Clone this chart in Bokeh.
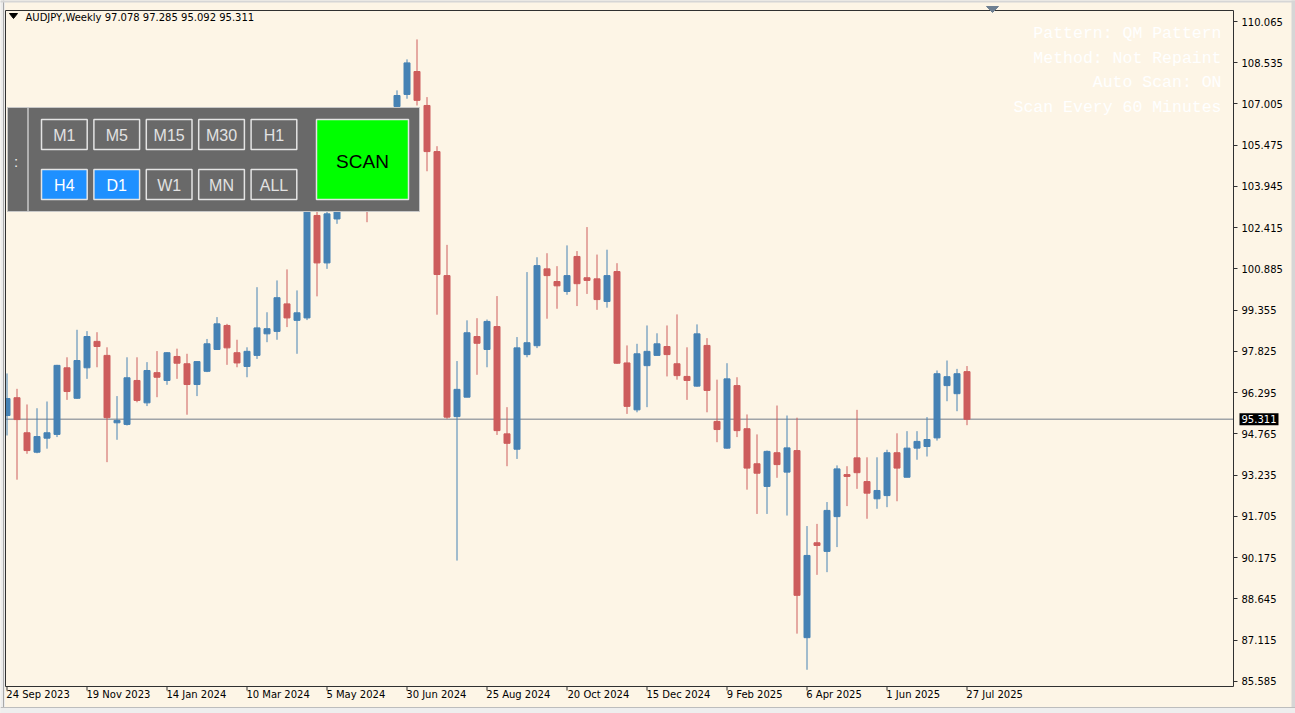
from bokeh.plotting import figure
from bokeh.models import (Range1d, FixedTicker, Label, NumeralTickFormatter,
                          CustomJSTickFormatter, ColumnDataSource)
from bokeh.embed import file_html
from bokeh.resources import INLINE

# ---------------- data ----------------
symbol = "AUDJPY,Weekly"
opens = [95.45, 96.11, 94.81, 94.09, 94.61, 94.75, 97.22, 96.09, 97.22, 98.20,
         97.68, 95.18, 95.12, 96.75, 95.92, 97.04, 96.75, 97.64, 97.37, 96.60,
         97.09, 97.90, 98.79, 97.78, 97.27, 97.68, 98.48, 98.57, 99.59, 98.98,
         99.07, 102.87, 101.11, 102.74, 103.85, 104.20, 103.80, 103.30, 104.60, 106.91,
         107.36, 108.21, 106.95, 105.24, 100.64, 95.41, 96.13, 98.38, 97.90, 98.75,
         94.77, 94.20, 97.71, 98.04, 100.89, 100.42, 100.05, 101.35, 100.56, 100.52,
         99.68, 100.79, 97.40, 95.66, 97.30, 97.68, 98.01, 97.37, 96.90, 96.54,
         98.05, 95.23, 94.24, 96.56, 94.96, 93.66, 92.82, 94.07, 93.35, 94.15,
         87.21, 90.73, 90.41, 91.70, 93.26, 93.88, 93.00, 92.36, 92.48, 94.07,
         93.16, 94.24, 94.30, 94.62, 96.56, 96.26, 97.078]
highs = [97.01, 96.44, 95.86, 95.72, 95.97, 97.33, 97.61, 98.63, 98.58, 98.54,
         97.98, 96.17, 97.61, 97.61, 97.43, 97.84, 97.80, 97.93, 97.74, 97.46,
         98.29, 99.10, 98.85, 98.26, 97.98, 100.21, 99.28, 100.46, 100.87, 100.09,
         103.25, 104.75, 103.10, 104.10, 104.50, 104.85, 104.40, 104.90, 106.80, 107.51,
         108.66, 109.40, 107.26, 105.44, 101.78, 97.47, 98.98, 99.06, 99.01, 99.88,
         95.76, 98.36, 100.77, 101.32, 101.47, 100.99, 101.76, 101.55, 102.44, 101.42,
         101.60, 101.10, 98.05, 98.11, 98.79, 98.50, 98.79, 99.20, 97.98, 98.83,
         98.32, 96.78, 97.39, 96.87, 95.49, 94.75, 94.15, 95.82, 95.45, 95.37,
         91.35, 91.43, 92.24, 93.60, 93.57, 95.66, 93.90, 93.90, 94.18, 94.79,
         94.87, 94.87, 95.39, 97.12, 97.49, 97.18, 97.285]
lows = [94.71, 93.07, 94.03, 94.05, 94.22, 94.65, 96.03, 96.07, 96.81, 97.24,
        93.72, 94.55, 95.08, 95.94, 95.80, 96.13, 96.59, 96.81, 95.48, 96.17,
        97.06, 97.89, 97.33, 97.24, 96.87, 97.55, 98.17, 98.26, 98.73, 97.74,
        98.99, 99.87, 100.89, 102.56, 103.30, 103.50, 102.62, 103.15, 104.30, 106.45,
        107.20, 106.95, 104.51, 99.19, 95.33, 90.07, 96.13, 96.96, 97.24, 94.73,
        93.57, 93.84, 97.61, 97.95, 99.04, 99.41, 99.93, 99.51, 99.96, 99.37,
        99.45, 97.37, 95.51, 95.57, 95.76, 97.68, 96.90, 96.78, 96.03, 96.52,
        95.57, 94.46, 94.22, 94.65, 92.70, 91.80, 91.80, 93.14, 91.74, 87.36,
        86.02, 89.54, 89.64, 90.57, 92.09, 92.73, 91.62, 91.99, 92.05, 92.27,
        93.16, 93.81, 93.93, 94.52, 95.98, 95.61, 95.092]
closes = [96.08, 95.30, 94.15, 94.67, 94.81, 97.31, 96.34, 97.49, 98.38, 98.01,
          95.37, 95.27, 96.85, 96.01, 97.12, 96.87, 97.78, 97.39, 96.60, 97.45,
          98.11, 98.85, 97.96, 97.40, 97.83, 98.70, 98.67, 99.82, 99.07, 99.26,
          103.00, 101.11, 102.93, 103.85, 104.20, 103.80, 103.30, 104.60, 106.70, 107.32,
          108.53, 107.14, 105.24, 100.68, 95.39, 96.42, 98.52, 98.13, 98.94, 94.89,
          94.42, 97.96, 98.15, 101.01, 100.64, 100.26, 100.64, 100.34, 100.46, 99.75,
          100.64, 97.39, 95.79, 97.74, 97.83, 98.11, 97.71, 96.93, 96.75, 98.48,
          96.38, 94.93, 96.81, 94.89, 93.50, 93.31, 94.12, 93.63, 94.25, 88.78,
          90.26, 90.63, 91.93, 93.47, 93.19, 93.33, 92.57, 92.67, 94.07, 93.50,
          94.24, 94.49, 94.56, 97.00, 96.89, 97.00, 95.311]
x_tick_labels = ["24 Sep 2023", "19 Nov 2023", "14 Jan 2024", "10 Mar 2024", "5 May 2024",
                 "30 Jun 2024", "25 Aug 2024", "20 Oct 2024", "15 Dec 2024", "9 Feb 2025",
                 "6 Apr 2025", "1 Jun 2025", "27 Jul 2025"]
bars_per_label = 8
y_ticks = [110.065, 108.535, 107.005, 105.475, 103.945, 102.415, 100.885, 99.355,
           97.825, 96.295, 94.765, 93.235, 91.705, 90.175, 88.645, 87.115, 85.585]
bid = 95.311
row1 = ["M1", "M5", "M15", "M30", "H1"]
row2 = ["H4", "D1", "W1", "MN", "ALL"]
active = ["H4", "D1"]
scan_label = "SCAN"
info_lines = ["Pattern: QM Pattern", "Method: Not Repaint", "Auto Scan: ON", "Scan Every 60 Minutes"]

# ---------------- styles ----------------
UP = "#4682B4"
DN = "#CD5C5C"
BG = "#FDF5E6"
FRAME = "#303030"
WIN = "#D6D6D6"
AXFONT = "DejaVu Sans"
AXSIZE = "10px"


# reference-pixel helpers (layout of decorations only)
def X(px):
    return (px - 6.5) / 10.0


def Y(py):
    return 110.065 - (py - 21) / 26.96


# approximate DejaVu Sans advance widths at 10px (for left-aligning date labels)
CW = {" ": 3.18, "M": 8.63, "J": 2.95, "N": 7.48, "D": 7.7, "S": 6.35, "O": 7.87,
      "A": 6.84, "F": 5.75, "r": 4.11, "l": 2.78, "c": 5.5, "v": 5.92, "y": 5.92}


def text_w(s):
    return sum(CW.get(ch, 6.3) for ch in s)


p = figure(width=1295, height=713, output_backend="svg", toolbar_location=None,
           x_range=Range1d(X(0), X(1295)), y_range=Range1d(Y(713), Y(0)),
           y_axis_location="right", min_border=0)
p.background_fill_color = BG
p.border_fill_color = BG
p.outline_line_color = None
p.grid.visible = False

# right price axis, pinned to the chart frame's right edge
p.yaxis.fixed_location = X(1233)
p.yaxis.ticker = FixedTicker(ticks=y_ticks)
p.yaxis.formatter = NumeralTickFormatter(format="0.000")
p.yaxis.major_tick_out = 4
p.yaxis.major_tick_in = 0
p.yaxis.minor_tick_line_color = None
p.yaxis.axis_line_color = None
p.yaxis.major_tick_line_color = FRAME
p.yaxis.major_label_standoff = 4
p.yaxis.major_label_text_font = AXFONT
p.yaxis.major_label_text_font_size = AXSIZE
p.yaxis.major_label_text_color = "black"

# time axis, pinned to the chart frame's bottom edge; labels start at their tick
n = len(opens)
idx = list(range(n))
x_ticks = [k * bars_per_label for k in range(len(x_tick_labels))]
label_ticks = [t - 0.05 + text_w(lab) / 20.0 for t, lab in zip(x_ticks, x_tick_labels)]
p.xaxis.fixed_location = Y(686)
p.xaxis.ticker = FixedTicker(ticks=label_ticks)
p.xaxis.formatter = CustomJSTickFormatter(args=dict(labels=x_tick_labels),
                                          code="return labels[index];")
p.xaxis.major_tick_line_color = None
p.xaxis.major_tick_out = 0
p.xaxis.major_tick_in = 0
p.xaxis.minor_tick_line_color = None
p.xaxis.axis_line_color = None
p.xaxis.major_label_standoff = 2
p.xaxis.major_label_text_font = AXFONT
p.xaxis.major_label_text_font_size = AXSIZE
p.xaxis.major_label_text_color = "black"
# tick marks at the label dates
p.segment(x0=x_ticks, y0=Y(686), x1=x_ticks, y1=Y(690), line_color=FRAME, line_width=1)

# bid line (under the candles)
p.segment(x0=X(5), y0=bid, x1=X(1233), y1=bid, line_color="#A0A4A8", line_width=1.5)

# candles
colors = [UP if c >= o else DN for o, c in zip(opens, closes)]
src = ColumnDataSource(dict(
    x=idx, o=opens, h=highs, l=lows, c=closes,
    top=[max(o, c) for o, c in zip(opens, closes)],
    bottom=[min(o, c) for o, c in zip(opens, closes)],
    color=colors))
p.segment(x0="x", y0="l", x1="x", y1="h", line_color="color", line_width=1, source=src)
p.vbar(x="x", width=0.6, top="top", bottom="bottom", fill_color="color",
       line_color="color", line_width=1, source=src)

# window edges (left / top / right / bottom) and chart frame
p.quad(left=X(-2), right=X(4.5), top=Y(-2), bottom=Y(715), fill_color="#ECECEC",
       line_color=None)
p.segment(x0=X(3), y0=Y(0), x1=X(3), y1=Y(713), line_color="#A8A8A8", line_width=1)
p.quad(left=X(-2), right=X(1297), top=Y(-2), bottom=Y(2), fill_color=WIN, line_color=None)
p.quad(left=X(1291), right=X(1297), top=Y(-2), bottom=Y(715), fill_color=WIN, line_color=None)
p.quad(left=X(-2), right=X(1297), top=Y(707), bottom=Y(715), fill_color="#EEEEEE",
       line_color=None)
p.segment(x0=X(0), y0=Y(707), x1=X(1295), y1=Y(707), line_color="#BDBDBD", line_width=1)
p.quad(left=X(5), right=X(1233), top=Y(10), bottom=Y(686), fill_alpha=0,
       line_color=FRAME, line_width=1)

# price label on the axis
p.add_layout(Label(x=X(1239), y=bid, text=f"{bid:.3f}", text_align="left",
                   text_baseline="middle", text_font=AXFONT, text_font_size=AXSIZE,
                   text_color="white", background_fill_color="black", padding=2))

# title
p.patch(x=[X(9), X(17), X(13)], y=[Y(13), Y(13), Y(18)], color="black")
title_txt = f"{symbol}  {opens[-1]:.3f} {highs[-1]:.3f} {lows[-1]:.3f} {closes[-1]:.3f}"
p.add_layout(Label(x=X(25), y=Y(16.5), text=title_txt, text_align="left",
                   text_baseline="middle", text_font=AXFONT, text_font_size="10px",
                   text_color="black"))

# chart shift marker at the top
p.patch(x=[X(986), X(998), X(992)], y=[Y(6), Y(6), Y(12)], color="#6E7F91")

# info texts (top right)
for k, line in enumerate(info_lines):
    p.add_layout(Label(x=X(1221), y=Y(33 + 24.7 * k), text=line, text_align="right",
                       text_baseline="middle", text_font="Liberation Mono",
                       text_font_size="16.5px", text_color="#FFFFFF"))

# scanner panel
p.quad(left=X(7), right=X(419), top=Y(107), bottom=Y(211), fill_color="#696969",
       line_color="#C8C8C8", line_width=1)
p.segment(x0=X(27.5), y0=Y(107), x1=X(27.5), y1=Y(211), line_color="#C8C8C8", line_width=1.5)
p.add_layout(Label(x=X(15.5), y=Y(161), text=":", text_align="center",
                   text_baseline="middle", text_font="Liberation Sans",
                   text_font_size="15px", text_color="#F0F0F0"))

for r, (row, ytop) in enumerate(zip([row1, row2], [119, 169])):
    for k, name in enumerate(row):
        left = 41 + 52.4 * k
        is_on = name in active
        p.quad(left=X(left), right=X(left + 45.7), top=Y(ytop), bottom=Y(ytop + 30),
               fill_color="#1E90FF" if is_on else "#696969",
               line_color="#E4E4E4", line_width=1.5)
        p.add_layout(Label(x=X(left + 22.85), y=Y(ytop + 15.5), text=name,
                           text_align="center", text_baseline="middle",
                           text_font="Liberation Sans", text_font_size="16px",
                           text_color="#FFFFFF" if is_on else "#E2E2E2"))

p.quad(left=X(316), right=X(408), top=Y(119), bottom=Y(199), fill_color="#00FF00",
       line_color="#E4E4E4", line_width=1.5)
p.add_layout(Label(x=X(362), y=Y(160.5), text=scan_label, text_align="center",
                   text_baseline="middle", text_font="Liberation Sans",
                   text_font_size="19px", text_color="black"))

open("out.html", "w").write(file_html(p, INLINE))
